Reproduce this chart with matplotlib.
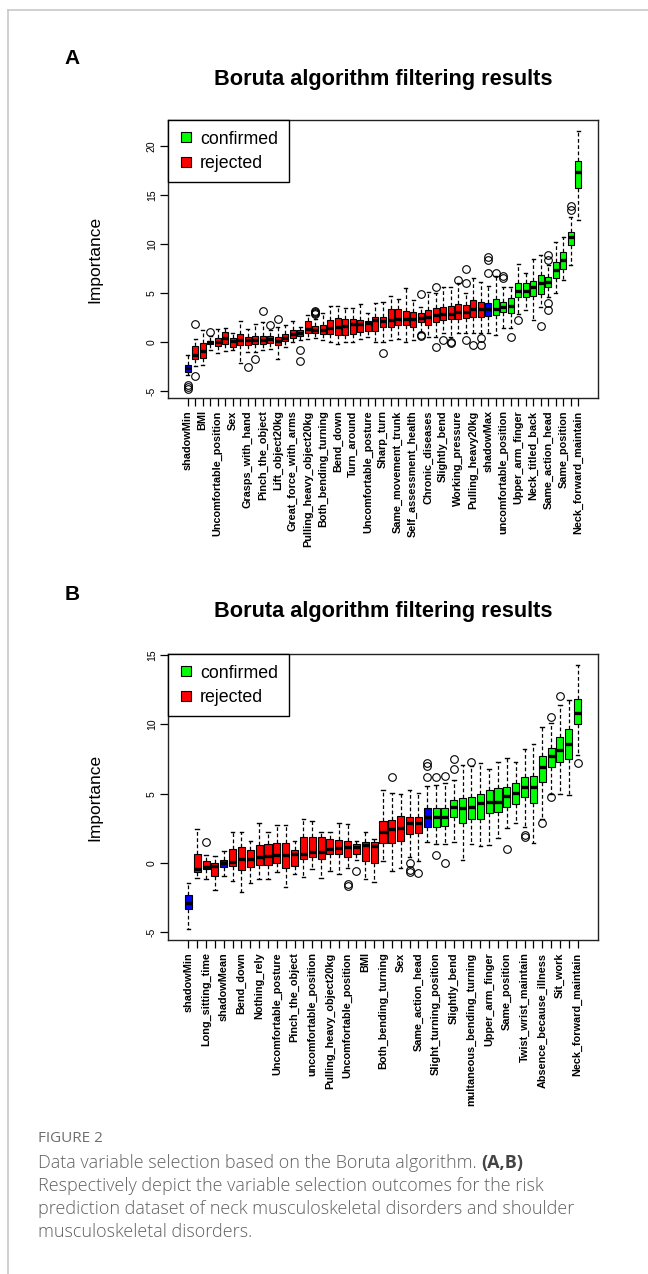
import matplotlib
matplotlib.use('Agg')
import matplotlib.pyplot as plt
from matplotlib.lines import Line2D

# ---------------- Panel A data ----------------
labels_A = ['shadowMin', '', 'BMI', '', 'Uncomfortable_position', '', 'Sex', '',
            'Grasps_with_hand', '', 'Pinch_the_object', '', 'Lift_object20kg', '',
            'Great_force_with_arms', '', 'Pulling_heavy_object20kg', '', 'Both_bending_turning', '',
            'Bend_down', '', 'Turn_around', '', 'Uncomfortable_posture', '', 'Sharp_turn', '',
            'Same_movement_trunk', '', 'Self_assessment_health', '', 'Chronic_diseases', '',
            'Slightly_bend', '', 'Working_pressure', '', 'Pulling_heavy20kg', '', 'shadowMax', '',
            'uncomfortable_position', '', 'Upper_arm_finger', '', 'Neck_titled_back', '',
            'Same_action_head', '', 'Same_position', '', 'Neck_forward_maintain']
status_A = (['shadow'] + ['rejected'] * 2 + ['shadow'] + ['rejected'] * 36 + ['shadow'] + ['confirmed'] * 12)
med_A = [-2.7, -1.35, -0.95, 0.0, 0.0, 0.4, 0.1, 0.24, 0.17, 0.24, 0.2, 0.3, 0.1, 0.4, 0.85, 0.9,
         1.28, 1.25, 1.25, 1.45, 1.5, 1.6, 1.86, 1.86, 1.93, 2.2, 2.1, 2.24, 2.3, 2.3, 2.3, 2.5,
         2.6, 2.75, 2.9, 2.9, 3.1, 3.1, 3.33, 3.4, 3.33, 3.4, 3.6, 3.67, 5.24, 5.24, 5.65, 6.0,
         6.16, 7.35, 8.4, 10.7, 17.3]
q1_A = [-3.06, -1.69, -1.6, -0.2, -0.44, -0.17, -0.5, -0.34, -0.34, -0.17, -0.2, -0.1, -0.34, 0.1, 0.4, 0.57,
        0.95, 0.9, 0.78, 0.78, 0.68, 0.7, 0.78, 1.0, 1.1, 1.1, 1.5, 1.56, 1.73, 1.73, 1.56, 2.07,
        1.73, 2.07, 2.24, 2.31, 2.31, 2.41, 2.58, 2.58, 2.65, 2.75, 3.1, 2.93, 4.63, 4.6, 4.69, 4.9,
        5.65, 6.5, 7.5, 9.9, 15.7]
q3_A = [-2.3, -0.44, -0.1, 0.1, 0.4, 1.0, 0.4, 0.78, 0.5, 0.64, 0.64, 0.6, 0.5, 0.78, 1.25, 1.18,
        2.1, 1.6, 1.7, 2.26, 2.47, 2.3, 2.3, 2.2, 2.1, 2.6, 2.52, 3.37, 3.33, 3.2, 3.1, 2.92,
        3.27, 3.44, 3.6, 3.67, 3.88, 3.78, 4.29, 4.12, 4.0, 4.35, 4.12, 4.46, 5.99, 6.0, 6.26, 6.84,
        6.6, 8.2, 9.2, 11.26, 18.5]
lo_A = [-3.4, -2.4, -2.3, -0.8, -1.1, -0.9, -0.8, -2.1, -1.0, -1.0, -0.8, -0.7, -1.7, -0.5, 0.0, 0.2,
        0.3, 0.4, 0.2, 0.0, -0.2, 0.0, 0.0, 0.3, 0.5, 0.0, 0.0, 0.2, 0.27, 0.0, 0.2, 1.0,
        0.5, 0.5, 0.9, 0.5, 0.9, 0.9, 0.9, 0.9, 0.9, 0.7, 1.4, 1.4, 2.9, 3.3, 2.25, 3.6,
        4.6, 5.0, 6.3, 7.9, 12.4]
hi_A = [-1.3, 0.34, 1.2, 0.6, 1.35, 1.4, 0.9, 2.1, 1.3, 1.8, 2.0, 1.2, 1.5, 1.7, 2.1, 1.5,
        2.8, 2.3, 3.0, 3.7, 3.7, 3.5, 3.5, 3.9, 3.0, 4.0, 4.1, 4.7, 4.4, 5.5, 4.3, 3.6,
        5.1, 5.0, 5.6, 5.6, 6.0, 5.0, 6.5, 6.1, 5.7, 6.7, 5.6, 5.6, 8.0, 7.07, 8.5, 8.9,
        7.9, 10.2, 10.7, 12.8, 21.5]
fliers_A = [[-4.4, -4.6, -4.8], [1.86, -3.5], [], [1.0], [], [], [], [], [-2.5], [-1.7], [3.2], [1.7],
            [2.4], [], [], [-0.8, -1.9], [], [2.9, 3.0, 3.1, 3.2], [], [], [], [], [], [], [], [],
            [-1.1], [], [], [], [], [4.86, 0.6, 0.7], [], [5.6, -0.5], [0.2], [-0.07, 0.0], [6.3],
            [7.4, 6.05, 0.2], [-0.3], [0.37, -0.3], [7.07, 8.4, 8.7], [7.07], [6.5, 6.7], [0.48],
            [2.25], [], [], [1.6], [8.4, 8.9, 4.0, 3.3], [], [], [13.5, 13.9], []]

# ---------------- Panel B data ----------------
labels_B = ['shadowMin', '', 'Long_sitting_time', '', 'shadowMean', '', 'Bend_down', '',
            'Nothing_rely', '', 'Uncomfortable_posture', '', 'Pinch_the_object', '',
            'uncomfortable_position', '', 'Pulling_heavy_object20kg', '', 'Uncomfortable_position', '',
            'BMI', '', 'Both_bending_turning', '', 'Sex', '', 'Same_action_head', '',
            'Slight_turning_position', '', 'Slightly_bend', '', 'multaneous_bending_turning', '',
            'Upper_arm_finger', '', 'Same_position', '', 'Twist_wrist_maintain', '',
            'Absence_because_illness', '', 'Sit_work', '', 'Neck_forward_maintain']
status_B = (['shadow'] + ['rejected'] * 3 + ['shadow'] + ['rejected'] * 22 + ['shadow'] + ['confirmed'] * 17)
med_B = [-2.87, -0.46, -0.31, -0.22, 0.0, 0.07, 0.27, 0.27, 0.46, 0.5, 0.58, 0.58, 0.65, 0.65, 0.82,
         0.82, 1.0, 1.06, 1.18, 1.18, 1.28, 1.25, 2.26, 2.43, 2.5, 2.86, 2.86, 3.3, 3.3, 3.34,
         4.06, 3.94, 4.06, 4.3, 4.42, 4.42, 4.83, 5.07, 5.46, 5.5, 6.9, 7.7, 8.15, 8.58, 10.84]
q1_B = [-3.35, -0.67, -0.46, -0.92, -0.31, -0.22, -0.5, -0.3, -0.14, -0.14, 0.0, -0.33, -0.2, 0.26, 0.41,
        0.29, 0.65, 0.65, 0.46, 0.65, 0.17, 0.0, 1.47, 1.47, 1.6, 2.1, 2.14, 2.6, 2.6, 2.65,
        3.34, 2.9, 3.2, 3.2, 3.58, 3.7, 4.06, 4.25, 4.74, 4.3, 5.86, 6.9, 7.3, 7.48, 10.0]
q3_B = [-2.3, 0.65, 0.17, -0.02, 0.22, 1.0, 1.13, 0.9, 1.28, 1.37, 1.47, 1.47, 0.9, 1.9, 1.86,
        1.86, 1.71, 1.66, 1.6, 1.37, 1.54, 1.54, 3.05, 3.1, 3.4, 3.34, 3.34, 3.94, 3.94, 4.0,
        4.54, 4.66, 4.78, 4.97, 5.26, 5.38, 5.5, 5.75, 6.2, 6.3, 7.7, 8.3, 9.06, 9.64, 11.83]
lo_B = [-4.8, -1.06, -1.16, -1.95, -0.94, -1.28, -2.07, -1.47, -1.16, -1.16, -0.63, -1.7, -0.8, -1.04, -0.46,
        -1.1, -0.55, -0.8, -0.38, 0.2, -1.16, -1.35, 0.17, -0.6, -0.38, 0.46, 0.17, 1.54, 1.4, 1.4,
        1.54, 0.2, 1.4, 1.2, 1.3, 1.8, 2.5, 2.86, 2.62, 1.42, 3.2, 5.0, 5.0, 4.9, 7.8]
hi_B = [-1.42, 2.43, 0.58, 0.5, 0.87, 2.2, 2.27, 1.6, 2.87, 2.2, 2.75, 2.75, 1.6, 3.16, 3.0,
        2.27, 2.2, 2.87, 2.8, 1.6, 2.2, 1.7, 5.3, 5.07, 5.0, 5.26, 5.07, 5.55, 5.6, 5.75,
        6.0, 7.07, 7.0, 7.2, 6.8, 7.3, 7.55, 7.3, 8.2, 8.6, 9.78, 10.07, 11.4, 11.75, 14.28]
fliers_B = [[], [], [1.54], [], [], [], [], [], [], [], [], [], [], [], [], [], [], [],
            [-1.66, -1.55], [-0.55], [], [], [], [6.18], [], [0.0, -0.62, -0.5], [-0.7],
            [6.18, 7.0, 7.2], [6.18, 0.58], [6.27, 0.0], [7.47, 6.78], [], [7.25], [], [], [],
            [0.98], [], [1.9, 2.0], [], [2.85], [10.55, 4.74], [12.04], [], [7.24]]

status_colors = {'shadow': '#0000FF', 'rejected': '#FF0000', 'confirmed': '#00FF00'}
legend_labels = ['confirmed', 'rejected']

title_text = 'Boruta algorithm filtering results'
ylabel_text = 'Importance'

W, H = 648, 1274
fig = plt.figure(figsize=(W / 100, H / 100), dpi=100)
fig.patch.set_facecolor('white')
FONT = 'Liberation Sans'


def rect(l, t, r, b):
    return [l / W, 1 - b / H, (r - l) / W, (b - t) / H]


def ftext(x, y, s, **kw):
    return fig.text(x / W, 1 - y / H, s, **kw)


def panel(box, labels, status, med, q1, q3, lo, hi, fl, ylim, yticks):
    ax = fig.add_axes(rect(*box))
    n = len(labels)
    pos = list(range(1, n + 1))
    stats = [dict(med=med[i], q1=q1[i], q3=q3[i], whislo=lo[i], whishi=hi[i], fliers=fl[i])
             for i in range(n)]
    art = ax.bxp(stats, positions=pos, widths=0.8, patch_artist=True, capwidths=0.4,
                 boxprops=dict(edgecolor='black', linewidth=0.8),
                 medianprops=dict(color='black', linewidth=2.4, solid_capstyle='butt'),
                 whiskerprops=dict(color='black', linewidth=0.9, linestyle=(0, (3.0, 2.0))),
                 capprops=dict(color='black', linewidth=1.0),
                 flierprops=dict(marker='o', markerfacecolor='none', markeredgecolor='black',
                                 markersize=5.5, markeredgewidth=0.8, linestyle='none'))
    for patch, s in zip(art['boxes'], status):
        patch.set_facecolor(status_colors[s])
    ax.set_xlim(0.5 - 0.04 * n, n + 0.5 + 0.04 * n)
    ax.set_ylim(*ylim)
    ax.set_yticks(yticks)
    ax.set_yticklabels([str(v) for v in yticks], fontsize=7.5, family=FONT)
    for lab in ax.get_yticklabels():
        lab.set_rotation(90)
        lab.set_va('center')
    ax.set_xticks(pos)
    ax.set_xticklabels(labels, rotation=90, fontsize=7.8, family=FONT, weight='bold',
                       va='top', ha='center')
    ax.tick_params(axis='both', direction='out', length=6, width=0.9, color='black', pad=2)
    ax.tick_params(axis='x', pad=3)
    for sp in ax.spines.values():
        sp.set_linewidth(1.0)
        sp.set_color('#222222')
    handles = [Line2D([], [], marker='s', linestyle='none', markersize=6.5,
                      markerfacecolor=status_colors[k], markeredgecolor='black', markeredgewidth=0.8)
               for k in legend_labels]
    leg = ax.legend(handles, legend_labels, loc='upper left', borderaxespad=0, fancybox=False,
                    prop=dict(family=FONT, size=12.8), handlelength=0.8, handletextpad=0.4,
                    borderpad=0.6, labelspacing=0.4, framealpha=1)
    leg.get_frame().set_edgecolor('black')
    leg.get_frame().set_linewidth(1.0)
    return ax


axA = panel((168, 120, 598, 398), labels_A, status_A, med_A, q1_A, q3_A, lo_A, hi_A, fliers_A,
            (-5.71, 22.65), [-5, 0, 5, 10, 15, 20])
axB = panel((168, 654, 598, 940), labels_B, status_B, med_B, q1_B, q3_B, lo_B, hi_B, fliers_B,
            (-5.56, 15.08), [-5, 0, 5, 10, 15])

# Titles, panel letters, y labels
for (ly, ty, iy, letter) in [(59, 80, 259, 'A'), (595, 611, 797, 'B')]:
    ftext(72, ly, letter, fontsize=15, weight='bold', family=FONT, ha='center', va='center')
    ftext(383, ty, title_text, fontsize=15.7, weight='bold', family=FONT, ha='center', va='center')
    ftext(95, iy, ylabel_text, fontsize=12.5, family=FONT, rotation=90, ha='center', va='center')

# Card border
fig.add_artist(Line2D([8 / W, 1], [1 - 10 / H, 1 - 10 / H], color='#c8c8c8', linewidth=1.2))
fig.add_artist(Line2D([8 / W, 8 / W], [0, 1 - 10 / H], color='#c8c8c8', linewidth=1.2))

# Caption
CAP = 'Open Sans'
grey = '#5f6062'
CAPSIZE = 13.0
X0 = 38
ftext(X0, 1139, 'FIGURE 2', fontsize=11, family=CAP, color='#6d6e70', va='center', ha='left')
t1 = ftext(X0, 1163, 'Data variable selection based on the Boruta algorithm. ', fontsize=CAPSIZE,
           family=CAP, color=grey, va='center', ha='left', weight='light')
fig.canvas.draw()
bb = t1.get_window_extent(renderer=fig.canvas.get_renderer())
ftext(bb.x1, 1163, '(A,B)', fontsize=CAPSIZE, family=CAP, color='#444444', va='center', ha='left',
      weight='bold')
cap_lines = ['Respectively depict the variable selection outcomes for the risk',
             'prediction dataset of neck musculoskeletal disorders and shoulder',
             'musculoskeletal disorders.']
for i, line in enumerate(cap_lines):
    ftext(X0, 1186 + i * 22.8, line, fontsize=CAPSIZE, family=CAP, color=grey, va='center', ha='left',
          weight='light')

fig.savefig('out.png', dpi=100, facecolor='white')
